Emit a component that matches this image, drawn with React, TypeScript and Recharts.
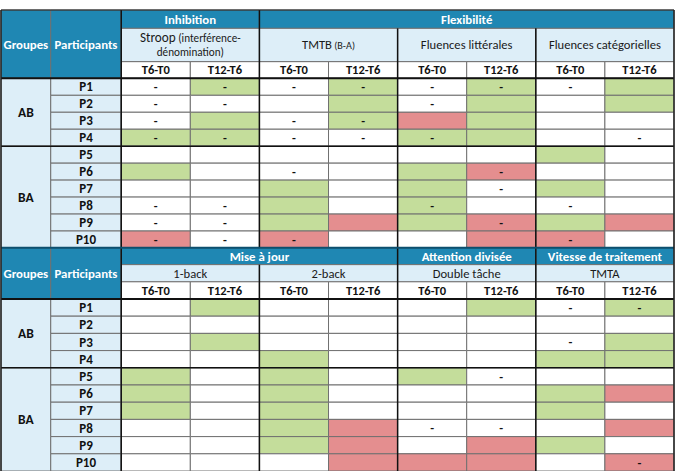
import React from 'react';
import { ScatterChart, XAxis, YAxis, Scatter, ReferenceArea, ReferenceLine } from 'recharts';

// ---------- DATA ----------
const participants = ['P1', 'P2', 'P3', 'P4', 'P5', 'P6', 'P7', 'P8', 'P9', 'P10'];
const groupLabels = ['AB', 'BA'];
const groupSizes = [4, 6];
const periods = ['T6-T0', 'T12-T6'];
const headerGroupes = 'Groupes';
const headerParticipants = 'Participants';

const t1Domains = ['Inhibition', 'Flexibilité'];
const t1DomainSpans = [2, 6];
const t1TestNames = ['Stroop', 'TMTB', 'Fluences littérales', 'Fluences catégorielles'];
const t1TestNotes = [['(interférence-', 'dénomination)'], ['(B-A)'], [], []];
// g = green (improvement), r = red (decline), w = no change ; '-' marks a dash in the cell
const t1Cells = [
  ['w-', 'g-', 'w-', 'g-', 'w-', 'g-', 'w-', 'g'],
  ['w-', 'w-', 'w', 'g', 'w-', 'g', 'w', 'g'],
  ['w-', 'g', 'w-', 'g-', 'r', 'g', 'w', 'w'],
  ['g-', 'g-', 'w-', 'w-', 'g-', 'g', 'w', 'w-'],
  ['w', 'w', 'w', 'w', 'w', 'w', 'g', 'w'],
  ['g', 'w', 'w-', 'w', 'g', 'r-', 'w', 'w'],
  ['w', 'w', 'g', 'w', 'g', 'w-', 'g', 'w'],
  ['w-', 'w-', 'g', 'w', 'g-', 'w', 'w-', 'w'],
  ['w-', 'w-', 'g', 'r', 'g', 'r-', 'g', 'r'],
  ['r-', 'w-', 'r-', 'w', 'w', 'r', 'r-', 'w'],
];

const t2Domains = ['Mise à jour', 'Attention divisée', 'Vitesse de traitement'];
const t2DomainSpans = [4, 2, 2];
const t2TestNames = ['1-back', '2-back', 'Double tâche', 'TMTA'];
const t2TestNotes = [[], [], [], []];
const t2Cells = [
  ['w', 'g', 'w', 'w', 'w', 'g', 'w-', 'g-'],
  ['w', 'w', 'w', 'w', 'w', 'w', 'w', 'w'],
  ['w', 'g', 'w', 'w', 'w', 'w', 'w-', 'g'],
  ['w', 'w', 'g', 'w', 'w', 'w', 'g', 'g'],
  ['g', 'w', 'g', 'w', 'g', 'w-', 'w', 'w'],
  ['g', 'w', 'g', 'w', 'w', 'w', 'g', 'r'],
  ['g', 'w', 'g', 'w', 'w', 'w', 'g', 'w'],
  ['w', 'w', 'g', 'r', 'w-', 'w-', 'w', 'r'],
  ['w', 'w', 'g', 'r', 'w', 'r', 'g', 'w'],
  ['w', 'w', 'w', 'r', 'r', 'r', 'w', 'r-'],
];

// ---------- LAYOUT / STYLE ----------
const W = 675;
const H = 471;
const X_MAX = 9.74;
const Y_MAX = 27.12;
const X_GROUP = [0, 0.72];
const X_PART = [0.72, 1.74];
const X_DATA0 = 1.74;
const T1_Y = [0, 1.08, 3.04, 4.02, 14.0];
const T2_Y = [13.98, 14.98, 15.99, 17.0, 27.12];

const BLUE = '#1f87b3';
const LIGHT = '#ddeef8';
const GREEN = '#c4dd9b';
const RED = '#e48e8f';
const WHITE = '#ffffff';
const GRID = '#707070';
const FONT = 'Carlito, Calibri, Lato, sans-serif';
const fillFor: Record<string, string> = { g: GREEN, r: RED, w: WHITE };

type Cell = { x1: number; x2: number; y1: number; y2: number; fill: string };
type Txt = { x: number; y: number; kind: string; text: string; notes?: string[] };

function buildTable(
  yEdges: number[],
  domains: string[],
  spans: number[],
  testNames: string[],
  testNotes: string[][],
  cells: string[][],
) {
  const rects: Cell[] = [];
  const texts: Txt[] = [];
  const [yA, yB, yC, yD, yE] = yEdges;
  const rowH = (yE - yD) / participants.length;
  rects.push({ x1: X_GROUP[0], x2: X_GROUP[1], y1: yA, y2: yD, fill: BLUE });
  rects.push({ x1: X_PART[0], x2: X_PART[1], y1: yA, y2: yD, fill: BLUE });
  texts.push({ x: (X_GROUP[0] + X_GROUP[1]) / 2, y: (yA + yD) / 2, kind: 'head', text: headerGroupes });
  texts.push({ x: (X_PART[0] + X_PART[1]) / 2, y: (yA + yD) / 2, kind: 'head', text: headerParticipants });
  let c = 0;
  domains.forEach((d, i) => {
    const x1 = X_DATA0 + c;
    const x2 = x1 + spans[i];
    rects.push({ x1, x2, y1: yA, y2: yB, fill: BLUE });
    texts.push({ x: (x1 + x2) / 2, y: (yA + yB) / 2, kind: 'head', text: d });
    c += spans[i];
  });
  testNames.forEach((t, i) => {
    const x1 = X_DATA0 + i * 2;
    const x2 = x1 + 2;
    rects.push({ x1, x2, y1: yB, y2: yC, fill: LIGHT });
    texts.push({ x: (x1 + x2) / 2, y: (yB + yC) / 2, kind: 'test', text: t, notes: testNotes[i] });
  });
  for (let j = 0; j < 8; j++) {
    const x1 = X_DATA0 + j;
    rects.push({ x1, x2: x1 + 1, y1: yC, y2: yD, fill: WHITE });
    texts.push({ x: x1 + 0.5, y: (yC + yD) / 2, kind: 'period', text: periods[j % 2] });
  }
  let r = 0;
  groupLabels.forEach((g, i) => {
    const y1 = yD + r * rowH;
    const y2 = y1 + groupSizes[i] * rowH;
    rects.push({ x1: X_GROUP[0], x2: X_GROUP[1], y1, y2, fill: LIGHT });
    texts.push({ x: (X_GROUP[0] + X_GROUP[1]) / 2, y: (y1 + y2) / 2, kind: 'group', text: g });
    r += groupSizes[i];
  });
  participants.forEach((p, i) => {
    const y1 = yD + i * rowH;
    const y2 = y1 + rowH;
    rects.push({ x1: X_PART[0], x2: X_PART[1], y1, y2, fill: LIGHT });
    texts.push({ x: (X_PART[0] + X_PART[1]) / 2, y: (y1 + y2) / 2, kind: 'part', text: p });
    cells[i].forEach((v, j) => {
      const x1 = X_DATA0 + j;
      rects.push({ x1, x2: x1 + 1, y1, y2, fill: fillFor[v[0]] });
      if (v.includes('-')) texts.push({ x: x1 + 0.5, y: (y1 + y2) / 2, kind: 'dash', text: '-' });
    });
  });
  return { rects, texts, rowH };
}

const t1 = buildTable(T1_Y, t1Domains, t1DomainSpans, t1TestNames, t1TestNotes, t1Cells);
const t2 = buildTable(T2_Y, t2Domains, t2DomainSpans, t2TestNames, t2TestNotes, t2Cells);
const allRects = [...t1.rects, ...t2.rects];
const allTexts = [...t1.texts, ...t2.texts];

type Seg = { x1: number; y1: number; x2: number; y2: number; color: string; w: number };
const lines: Seg[] = [
  { x1: 1.74, y1: 0, x2: 1.74, y2: 14, color: '#111', w: 1.5 },
  { x1: 3.74, y1: 0, x2: 3.74, y2: 14, color: '#111', w: 1.5 },
  { x1: 5.74, y1: 1.08, x2: 5.74, y2: 14, color: '#111', w: 1.5 },
  { x1: 7.74, y1: 1.08, x2: 7.74, y2: 14, color: '#111', w: 1.5 },
  { x1: 0, y1: 4.02, x2: X_MAX, y2: 4.02, color: '#111', w: 2 },
  { x1: 0, y1: 4.02 + 4 * t1.rowH, x2: X_MAX, y2: 4.02 + 4 * t1.rowH, color: '#111', w: 1.5 },
  { x1: 1.74, y1: 13.98, x2: 1.74, y2: Y_MAX, color: '#111', w: 1.5 },
  { x1: 3.74, y1: 14.98, x2: 3.74, y2: Y_MAX, color: '#111', w: 1.5 },
  { x1: 5.74, y1: 13.98, x2: 5.74, y2: Y_MAX, color: '#111', w: 1.5 },
  { x1: 7.74, y1: 13.98, x2: 7.74, y2: Y_MAX, color: '#111', w: 1.5 },
  { x1: 0, y1: 17.0, x2: X_MAX, y2: 17.0, color: '#111', w: 2 },
  { x1: 0, y1: 17.0 + 4 * t2.rowH, x2: X_MAX, y2: 17.0 + 4 * t2.rowH, color: '#111', w: 1.5 },
  { x1: 0, y1: 13.98, x2: X_MAX, y2: 13.98, color: '#0d4f6e', w: 2 },
  { x1: 0, y1: 0, x2: 0, y2: Y_MAX, color: '#222', w: 1.5 },
  { x1: X_MAX, y1: 0, x2: X_MAX, y2: Y_MAX, color: '#222', w: 1.5 },
  { x1: 0, y1: 0, x2: X_MAX, y2: 0, color: '#222', w: 1 },
];

const SIZES: Record<string, { size: number; weight: string; fill: string }> = {
  head: { size: 12.8, weight: 'bold', fill: '#ffffff' },
  period: { size: 12.5, weight: 'bold', fill: '#111' },
  part: { size: 13, weight: 'bold', fill: '#111' },
  group: { size: 13.5, weight: 'bold', fill: '#111' },
  dash: { size: 12.5, weight: 'bold', fill: '#111' },
};
const TEST_SIZE = 12.6;
const NOTE_SIZE = 11.2;

const renderText = (props: any) => {
  const { cx, cy, payload } = props;
  if (cx == null || cy == null) return <g />;
  const k = payload.kind;
  if (k === 'test') {
    const notes: string[] = payload.notes || [];
    if (notes.length === 2) {
      return (
        <text textAnchor="middle" fontFamily={FONT} fill="#1a1a1a">
          <tspan x={cx} y={cy - 7 + TEST_SIZE * 0.35} fontSize={TEST_SIZE + 0.6}>
            {payload.text}
            <tspan fontSize={NOTE_SIZE}>{' ' + notes[0]}</tspan>
          </tspan>
          <tspan x={cx} y={cy + 7.5 + NOTE_SIZE * 0.35} fontSize={NOTE_SIZE}>{notes[1]}</tspan>
        </text>
      );
    }
    return (
      <text x={cx} y={cy + TEST_SIZE * 0.35} textAnchor="middle" fontFamily={FONT} fill="#1a1a1a" fontSize={TEST_SIZE}>
        {payload.text}
        {notes.length === 1 ? <tspan fontSize={NOTE_SIZE - 1}>{' ' + notes[0]}</tspan> : null}
      </text>
    );
  }
  const s = SIZES[k];
  return (
    <text x={cx} y={cy + s.size * 0.35} textAnchor="middle" fontFamily={FONT}
      fontSize={s.size} fontWeight={s.weight} fill={s.fill}>
      {payload.text}
    </text>
  );
};

export default function App() {
  return (
    <div style={{ position: 'absolute', left: 0, top: 0, width: W, height: H, background: '#fff' }}>
      <ScatterChart width={W} height={H} margin={{ top: 10, right: 1, bottom: 0, left: 1 }}>
        <XAxis type="number" dataKey="x" domain={[0, X_MAX]} allowDataOverflow hide />
        <YAxis type="number" dataKey="y" domain={[0, Y_MAX]} allowDataOverflow reversed hide />
        {allRects.map((r, i) => (
          <ReferenceArea key={'a' + i} x1={r.x1} x2={r.x2} y1={r.y1} y2={r.y2}
            fill={r.fill} fillOpacity={1} stroke={GRID} strokeWidth={1} ifOverflow="visible" />
        ))}
        {lines.map((l, i) => (
          <ReferenceLine key={'l' + i} segment={[{ x: l.x1, y: l.y1 }, { x: l.x2, y: l.y2 }]}
            stroke={l.color} strokeWidth={l.w} ifOverflow="visible" />
        ))}
        <Scatter data={allTexts} shape={renderText} isAnimationActive={false} />
      </ScatterChart>
    </div>
  );
}
